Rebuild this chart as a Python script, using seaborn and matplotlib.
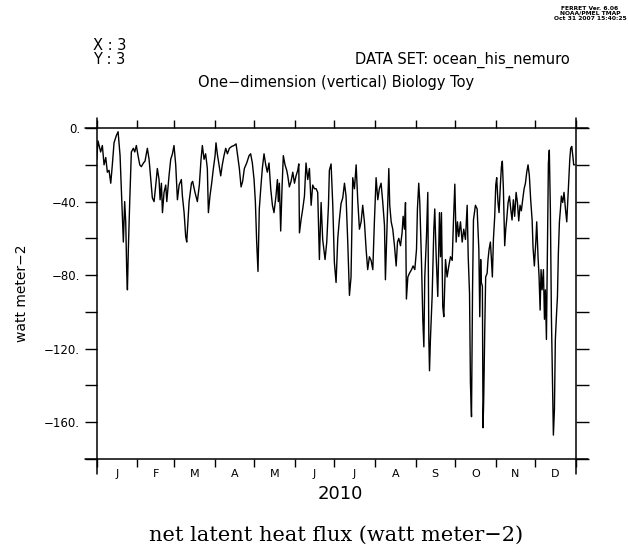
import matplotlib
matplotlib.use("Agg")
import matplotlib.pyplot as plt
import seaborn as sns
import pandas as pd
from matplotlib.lines import Line2D

# ---- data ----
days_jan_mar = [0, 1.0, 3.0, 4.3, 5.6, 6.9, 8.1, 9.4, 10.7, 11.9, 13.2, 15.0, 16.3, 17.8, 19.6, 20.3,
                21.3, 22.1, 22.9, 23.4, 24.1, 25.2, 26.4, 27.9, 29.0, 30.2, 31.5, 32.8, 34.0, 35.6,
                36.8, 38.6, 39.9, 41.2, 42.4, 43.7, 45.0, 46.2, 47.5, 48.3, 49.3, 50.1, 51.3, 52.6,
                53.4, 55.1, 56.4, 57.7, 58.9, 60.2, 61.5, 62.8, 64.5, 65.3, 66.6, 67.8, 68.6, 70.4, 72.2]
flux_jan_mar = [-17, -7, -13, -9.5, -20, -16, -24, -23, -30, -20, -8, -4, -2, -15, -48, -62,
                -40, -51, -79, -88, -66, -39, -13, -11, -13, -9.5, -15, -20, -21, -19,
                -18, -11, -17, -28, -38, -40, -31, -22, -28, -39, -30, -46, -35, -31,
                -40, -26, -17, -14, -9.5, -20, -39, -31, -28, -37, -46, -59, -62, -40, -30]

days_mar_may = [73.1, 74.9, 76.7, 78.2, 79.5, 80.5, 81.8, 83.0, 84.3, 85.1, 86.3, 87.6, 88.9, 90.2,
                90.9, 91.9, 93.2, 94.5, 95.7, 97.0, 98.3, 99.6, 101.1, 102.9, 104.6, 106.2, 107.4,
                108.7, 110.0, 111.2, 112.5, 114.3, 116.1, 117.3, 118.6, 119.9, 120.9, 121.9, 122.9,
                123.9, 125.0, 126.2, 127.5, 128.8, 130.0, 131.3, 132.6, 133.9, 135.1, 136.6, 137.7,
                138.4, 139.2, 140.2, 141.2, 142.2, 143.5, 144.8]
flux_mar_may = [-29, -35, -40, -31, -17, -9.5, -17, -14, -22, -46, -37, -30, -22, -15,
                -8, -14, -20, -26, -20, -15, -11, -14, -11, -10, -9.5, -8.6, -15,
                -22, -32, -29, -22, -19, -15, -14, -19, -28, -40, -62, -78,
                -44, -33, -22, -14, -20, -24, -19, -33, -42, -46, -37, -28,
                -40, -30, -56, -33, -15, -20, -23]

days_may_aug = [145.6, 146.8, 148.1, 149.4, 150.7, 151.9, 153.2, 154.0, 154.5, 155.7, 157.0, 158.3,
                159.5, 160.8, 162.1, 163.4, 164.6, 165.9, 167.2, 168.4, 169.7, 171.0, 172.2, 174.0,
                175.3, 176.6, 177.3, 178.6, 179.9, 181.1, 182.4, 183.7, 184.9, 186.2, 187.5, 188.8,
                190.0, 191.3, 192.6, 193.8, 195.1, 196.4, 197.7, 198.9, 200.2, 201.5, 202.7, 204.0,
                205.3, 206.5, 207.8, 209.1, 210.4, 211.6, 212.9, 214.2, 215.4, 216.7, 218.0, 219.3, 220.0]
flux_may_aug = [-26, -32, -29, -24, -30, -26, -23, -19.5, -57, -50, -44, -37,
                -19, -28, -22, -42, -31, -33, -33, -35, -71.5, -40.5, -60.6, -71.5,
                -62, -42, -23, -19.5, -42, -73, -84, -60, -50, -41, -38, -30,
                -37, -62, -91, -81, -27, -33, -20, -39, -55, -51, -42, -51,
                -66, -77, -70, -72, -77, -51, -27, -39, -33, -30, -40.5, -53, -82.5]

days_aug_oct = [221.8, 222.6, 223.3, 224.4, 225.6, 226.9, 228.2, 229.2, 230.2, 231.5, 232.7, 233.5,
                234.5, 235.3, 236.0, 237.1, 238.3, 239.9, 241.1, 242.4, 243.7, 244.4, 245.4, 246.2,
                247.5, 248.5, 249.3, 250.0, 251.3, 252.3, 253.1, 253.6, 254.3, 255.6, 256.9, 257.6,
                258.7, 259.9, 261.2, 262.0, 262.7, 263.7, 264.5, 265.8, 267.0, 268.3, 269.6, 270.9,
                271.9, 272.9, 273.9, 274.9, 275.9, 277.2, 278.5, 279.7, 281.0, 282.3, 283.1, 284.1,
                284.8, 285.6, 286.4, 287.1, 288.6, 289.9, 291.2]
flux_aug_oct = [-40.5, -22, -42, -51, -55, -64, -75, -62, -60, -64, -57, -48,
                -55, -40.5, -93, -81, -79, -77, -75, -77, -66, -44, -30, -40.5,
                -73, -104, -119, -81, -59, -35, -115, -132, -115, -91.6, -55, -44,
                -70, -91.6, -46, -70, -46, -97, -102.6, -71.5, -81, -75, -70, -72,
                -50, -30.5, -62, -51, -59, -51, -62, -55, -60.6, -42, -70, -90,
                -139, -157, -88, -50, -42, -44, -66]

days_oct_dec = [291.9, 292.6, 293.1, 293.9, 294.4, 294.9, 295.7, 296.4, 297.5, 298.2, 299.0, 300.0,
                300.8, 301.5, 302.3, 303.3, 304.1, 304.8, 305.8, 306.6, 307.6, 308.4, 309.1, 309.9,
                310.9, 311.7, 312.4, 313.5, 314.5, 315.5, 316.5, 317.5, 318.5, 319.6, 320.6, 321.6,
                322.6, 323.6, 324.6, 325.7, 326.7, 327.7, 328.7, 329.7, 330.7, 331.8, 332.5, 333.5,
                334.6, 335.3, 336.3, 337.1, 337.9, 338.6, 339.4, 340.4, 341.2, 341.9, 342.7, 343.4,
                344.2, 344.9, 345.7, 346.5, 347.3, 348.0, 348.8, 349.5, 350.3, 351.1, 351.8, 352.6,
                353.4, 354.1, 355.1, 356.1, 357.2, 358.2, 358.9, 359.7, 360.5, 361.2, 362.0, 362.8,
                363.5, 364.3]
flux_oct_dec = [-102.6, -71.5, -84, -86, -163, -148, -110, -81, -79, -71.5, -66, -62,
                -71.5, -81, -60.6, -48, -31, -27, -40.5, -46, -31, -21, -18, -33,
                -64, -55, -50, -40.5, -37, -44, -50, -39, -48, -35, -40.5, -50.5,
                -42, -45, -39, -33, -30, -24, -20, -26, -39, -50, -65, -75,
                -62, -51, -70, -81, -99, -77, -88, -77, -104, -88, -115, -70,
                -19, -12, -44, -102.6, -137, -167, -153, -115, -102.6, -91.6, -68, -51,
                -44, -37, -40.5, -35, -44, -51, -40.5, -28, -17, -11, -10, -15,
                -20, -20]

month_starts = [0, 31, 59, 90, 120, 151, 181, 212, 243, 273, 304, 334, 365]
month_labels = ["J", "F", "M", "A", "M", "J", "J", "A", "S", "O", "N", "D"]
y_major = [0, -40, -80, -120, -160]
y_labels = ["0.", "\u221240.", "\u221280.", "\u2212120.", "\u2212160."]
y_minor = [-20, -60, -100, -140, -180]

days = days_jan_mar + days_mar_may + days_may_aug + days_aug_oct + days_oct_dec
flux = flux_jan_mar + flux_mar_may + flux_may_aug + flux_aug_oct + flux_oct_dec
df = pd.DataFrame({"day": days, "flux": flux})

# ---- figure ----
sns.set_style("white")
plt.rcParams["font.family"] = ["DejaVu Sans"]
plt.rcParams["text.color"] = "black"
plt.rcParams["xtick.color"] = "black"
plt.rcParams["ytick.color"] = "black"
plt.rcParams["axes.labelcolor"] = "black"
fig = plt.figure(figsize=(6.28, 5.52), dpi=100)
ax = fig.add_axes([0.154, 0.1685, 0.7627, 0.5995])

sns.lineplot(data=df, x="day", y="flux", ax=ax, color="black", lw=1.0, sort=False)

ax.set_xlim(0, 365)
ax.set_ylim(-180, 0)
ax.set_xlabel("")
ax.set_ylabel("")

for s in ax.spines.values():
    s.set_visible(False)
lw_ax = 1.1
tr = ax.transAxes
for (xs, ys) in [([-0.025, 1.025], [0, 0]), ([-0.025, 1.025], [1, 1]),
                 ([0, 0], [-0.045, 1.03]), ([1, 1], [-0.045, 1.03])]:
    ax.add_line(Line2D(xs, ys, transform=tr, color="black", lw=lw_ax, clip_on=False))

# x ticks: month boundaries (major), labels at mid-month (minor)
mids = [(month_starts[i] + month_starts[i + 1]) / 2 for i in range(12)]
ax.set_xticks(month_starts)
ax.set_xticklabels([""] * len(month_starts))
ax.set_xticks(mids, minor=True)
ax.set_xticklabels(month_labels, minor=True, fontsize=8, color="black")
ax.tick_params(axis="x", which="major", direction="out", length=6, width=1,
               top=True, bottom=True, color="black")
ax.tick_params(axis="x", which="minor", length=0, pad=7, top=False)

# y ticks
ax.set_yticks(y_major)
ax.set_yticklabels(y_labels, fontsize=8.5, color="black")
ax.set_yticks(y_minor, minor=True)
ax.tick_params(axis="y", which="both", direction="out", length=9, width=1,
               left=True, right=True, pad=3, color="black")

# texts
fig.text(22 / 628, 1 - 293 / 552, "watt meter\u22122", rotation=90, ha="center", va="center",
         fontsize=10, color="black")
fig.text(340 / 628, 1 - 494 / 552, "2010", ha="center", va="center", fontsize=13, color="black")
fig.text(336 / 628, 1 - 535 / 552, "net latent heat flux (watt meter\u22122)", ha="center",
         va="center", fontsize=15, family=["DejaVu Serif"], color="black")
fig.text(336 / 628, 1 - 83 / 552, "One\u2212dimension (vertical) Biology Toy", ha="center",
         va="center", fontsize=10.5, color="black")
fig.text(570 / 628, 1 - 60 / 552, "DATA SET: ocean_his_nemuro", ha="right", va="center",
         fontsize=10.5, color="black")
fig.text(93 / 628, 1 - 45 / 552, "X : 3", ha="left", va="center", fontsize=10.5, color="black")
fig.text(93 / 628, 1 - 60 / 552, "Y : 3", ha="left", va="center", fontsize=10.5, color="black")
fig.text(590 / 628, 1 - 13 / 552, "FERRET Ver. 6.06\nNOAA/PMEL TMAP\nOct 31 2007 15:40:25",
         ha="center", va="center", fontsize=4.3, fontweight="bold", linespacing=1.0,
         color="black")

fig.savefig("out.png", dpi=100)
